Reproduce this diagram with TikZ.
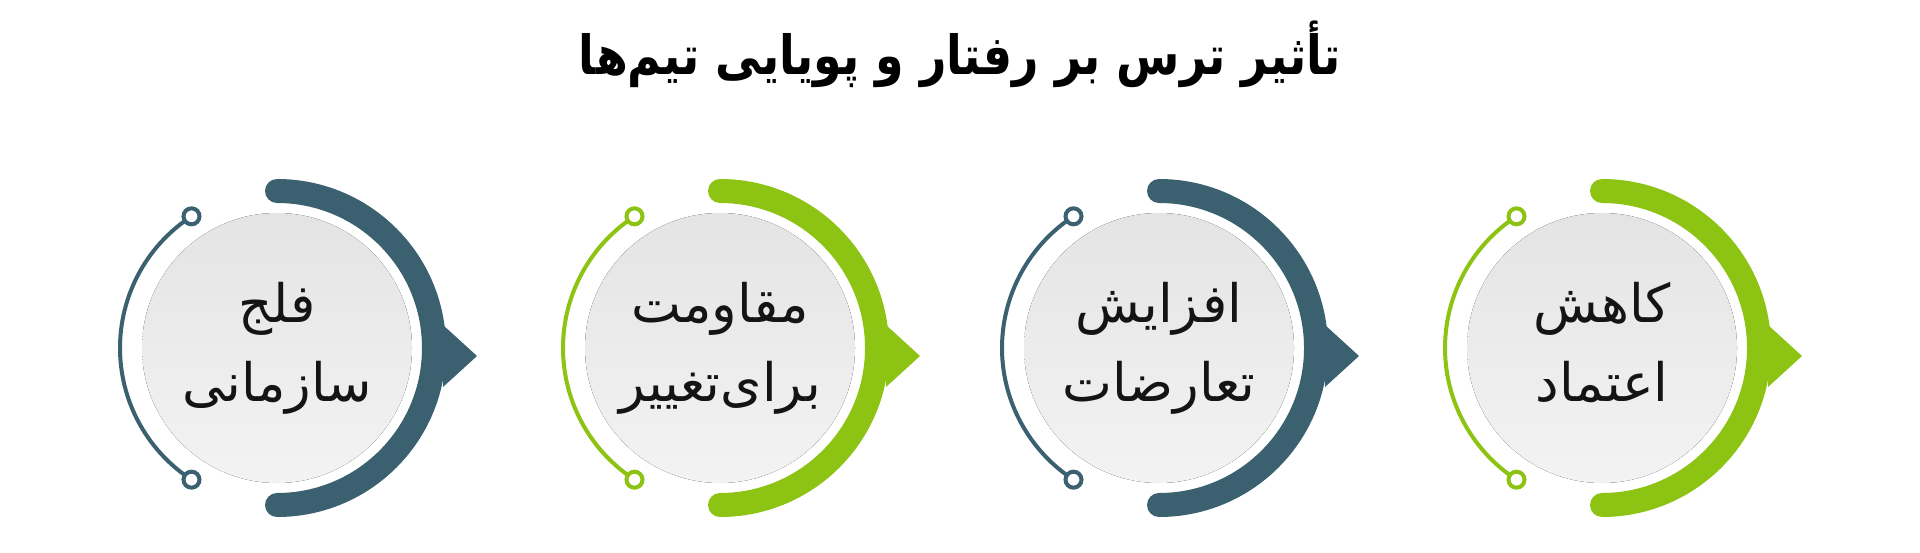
\documentclass[tikz,border=0pt]{standalone}
\usepackage{fontspec}
\usetikzlibrary{calc}
\newfontfamily\arabicfont[Script=Arabic]{DejaVu Sans}
\newfontfamily\arabictitle[Script=Arabic, FakeStretch=0.85]{DejaVu Sans}
\TeXXeTstate=1
\definecolor{slate}{HTML}{3B6170}
\definecolor{lime}{HTML}{8DC313}
\definecolor{discTop}{HTML}{E4E4E4}
\definecolor{discBot}{HTML}{F3F3F3}
\tikzset{
  ring/.style={line width=12pt, line cap=round},
  thinarc/.style={line width=2pt},
  knob/.style={line width=2pt, fill=white},
  itemtext/.style={font=\arabicfont\fontsize{26.5}{30}\selectfont, text=black!92, anchor=base, inner sep=0pt},
  titletext/.style={font=\arabictitle\bfseries\fontsize{27}{32}\selectfont, text=black, anchor=base, inner sep=0pt}
}

\begin{document}
\begin{tikzpicture}[x=0.5pt,y=0.5pt]
  \useasboundingbox (0,0) rectangle (1920,552);
  \node[titletext] (title) at (960,477) {\beginR تأثیر ترس بر رفتار و پویایی تیم‌ها\endR};
  \foreach \cx/\col/\lineA/\lineB [count=\i] in {277/slate/{فلج}/{سازمانی}, 720/lime/{مقاومت}/{برای‌تغییر}, 1159/slate/{افزایش}/{تعارضات}, 1602/lime/{کاهش}/{اعتماد}} {
    \coordinate (c\i) at (\cx,204);
    % disc
    \fill[top color=discTop, bottom color=discBot] (c\i) circle[radius=135];
    % thick arc and pointer
    \draw[ring, \col] (c\i) ++(0,157) arc[start angle=90, end angle=-90, radius=157];
    \fill[\col] (c\i) ++(166,23) -- ++(34,-31) -- ++(-34,-31) -- cycle;
    % thin arc with knobs
    \draw[thinarc, \col] (c\i) ++(123:157) arc[start angle=123, end angle=237, radius=157];
    \draw[knob, draw=\col] (c\i) ++(123:157) circle[radius=8];
    \draw[knob, draw=\col] (c\i) ++(237:157) circle[radius=8];
    \node[itemtext] (top\i) at ($(c\i)+(0,26)$) {\beginR\lineA\endR};
    \node[itemtext] (bot\i) at ($(c\i)+(0,-53)$) {\beginR\lineB\endR};
  }
\end{tikzpicture}
\end{document}
